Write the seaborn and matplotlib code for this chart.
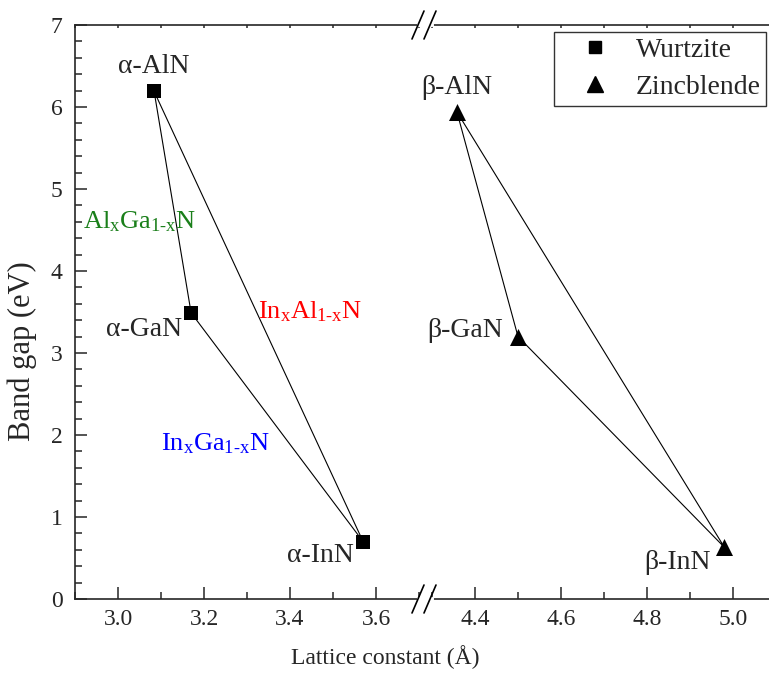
import numpy as np
import matplotlib
matplotlib.use("Agg")
import matplotlib.pyplot as plt
from matplotlib.lines import Line2D
import seaborn as sns

# Data
wz_names = ["α-AlN", "α-GaN", "α-InN"]
wz_a = [3.084, 3.170, 3.570]
wz_gap = [6.19, 3.49, 0.70]

zb_names = ["β-AlN", "β-GaN", "β-InN"]
zb_a = [4.358, 4.500, 4.980]
zb_gap = [5.94, 3.20, 0.63]

alloy_labels = [r"$\mathrm{Al_xGa_{1\text{-}x}N}$", r"$\mathrm{In_xAl_{1\text{-}x}N}$",
                r"$\mathrm{In_xGa_{1\text{-}x}N}$"]
alloy_x = [3.051, 3.447, 3.226]
alloy_y = [4.60, 3.50, 1.90]
alloy_colors = ["#1a7f1a", "#ff0000", "#0000ff"]

sns.set_style("ticks")
plt.rcParams["font.family"] = ["Liberation Serif", "DejaVu Serif"]
plt.rcParams["mathtext.fontset"] = "custom"
plt.rcParams["mathtext.rm"] = "Liberation Serif"
plt.rcParams["mathtext.it"] = "Liberation Serif:italic"

W, H = 769, 679
fig = plt.figure(figsize=(W / 100, H / 100), dpi=100)

left, right, bottom, top, brk = 75, 769, 599, 25, 427
scale = 430.0  # pixels per Angstrom
ax1 = fig.add_axes([left / W, 1 - bottom / H, (brk - left) / W, (bottom - top) / H])
ax2 = fig.add_axes([brk / W, 1 - bottom / H, (right - brk) / W, (bottom - top) / H])

ax1.set_xlim(2.9, 2.9 + (brk - left) / scale)
x2_lo = 4.4 - (475 - brk) / scale
ax2.set_xlim(x2_lo, x2_lo + (right - brk) / scale)
for ax in (ax1, ax2):
    ax.set_ylim(0, 7)


def triangle(ax, xs, ys, marker, ms):
    xc = list(xs) + [xs[0]]
    yc = list(ys) + [ys[0]]
    sns.lineplot(x=xc, y=yc, sort=False, estimator=None, color="black",
                 lw=0.8, ax=ax, legend=False)
    sns.scatterplot(x=xs, y=ys, marker=marker, s=ms, color="black",
                    edgecolor="black", linewidth=0, ax=ax, zorder=5, legend=False)


triangle(ax1, wz_a, wz_gap, "s", 95)
triangle(ax2, zb_a, zb_gap, "^", 150)

fs = 20
wz_off = [(0, 25, "center"), (-9, -17, "right"), (-9, -14, "right")]
for n, x, y, (dx, dy, ha) in zip(wz_names, wz_a, wz_gap, wz_off):
    ax1.annotate(n, (x, y), xytext=(dx, dy), textcoords="offset pixels",
                 ha=ha, va="center", fontsize=fs)
zb_off = [(0, 24, "center"), (-15, 6, "right"), (-14, -15, "right")]
for n, x, y, (dx, dy, ha) in zip(zb_names, zb_a, zb_gap, zb_off):
    ax2.annotate(n, (x, y), xytext=(dx, dy), textcoords="offset pixels",
                 ha=ha, va="center", fontsize=fs)

for t, x, y, c in zip(alloy_labels, alloy_x, alloy_y, alloy_colors):
    ax1.text(x, y, t, color=c, fontsize=19, ha="center", va="center")

# ticks and spines
for ax in (ax1, ax2):
    for s in ax.spines.values():
        s.set_linewidth(1.2)
    ax.tick_params(axis="both", which="major", direction="in", length=8.5,
                   width=1.1, labelsize=17)
    ax.tick_params(axis="both", which="minor", direction="in", length=4.7,
                   width=1.1)
    ax.tick_params(axis="x", which="both", top=True)
    ax.tick_params(axis="x", pad=7)
    ax.tick_params(axis="y", pad=9)
    ax.set_xlabel("")
    ax.set_ylabel("")
ax1.spines["right"].set_visible(False)
ax2.spines["left"].set_visible(False)
ax2.spines["right"].set_visible(False)
ax2.tick_params(axis="y", which="both", left=False, labelleft=False)

ax1.set_xticks([3.0, 3.2, 3.4, 3.6])
ax1.set_xticks(np.arange(2.9, 3.71, 0.1), minor=True)
ax2.set_xticks([4.4, 4.6, 4.8, 5.0])
ax2.set_xticks(np.arange(4.3, 5.05, 0.1), minor=True)
ax1.set_yticks(range(0, 8))
ax1.set_yticks(np.arange(0, 7.01, 0.2), minor=True)
ax2.set_yticks([])

# top ticks are only tiny dots in the reference
for t in ax1.xaxis.get_major_ticks() + ax1.xaxis.get_minor_ticks() + \
        ax2.xaxis.get_major_ticks() + ax2.xaxis.get_minor_ticks():
    t.tick2line.set_markersize(2)

ax1.set_ylabel("Band gap (eV)", fontsize=22)
ax1.yaxis.set_label_coords(-0.108, 0.432)
fig.text(385 / W, 1 - 657 / H, "Lattice constant (Å)", fontsize=17,
         ha="center", va="center")

# legend
handles = [Line2D([], [], marker="s", ls="none", color="black", ms=9),
           Line2D([], [], marker="^", ls="none", color="black", ms=11)]
leg = ax2.legend(handles, ["Wurtzite", "Zincblende"], loc="upper right",
                 bbox_to_anchor=(0.992, 0.988), fontsize=20, frameon=True,
                 fancybox=False, handletextpad=0.15, borderpad=0.2,
                 labelspacing=0.42, handlelength=2.6, borderaxespad=0)
leg.get_frame().set_edgecolor("black")
leg.get_frame().set_linewidth(1.0)

# axis break marks (figure pixel coordinates)
for yb in (top, bottom):
    fy = 1 - yb / H
    fig.add_artist(Line2D([419 / W, 432 / W], [fy, fy], color="white",
                          lw=3, transform=fig.transFigure, zorder=10))
    for cx in (418, 430):
        fig.add_artist(Line2D([(cx - 6) / W, (cx + 6) / W],
                              [fy - 14 / H, fy + 14 / H], color="black",
                              lw=1.2, transform=fig.transFigure, zorder=11))

fig.savefig("out.png", dpi=100)
